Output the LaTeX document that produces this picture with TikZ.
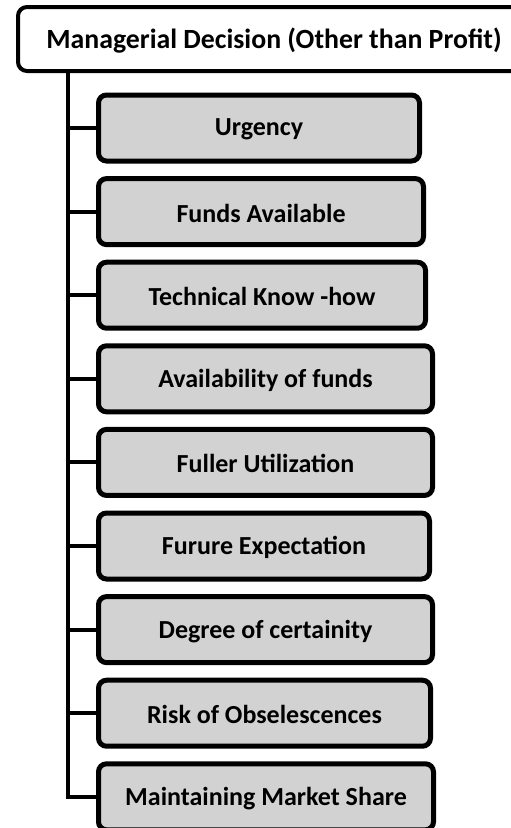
\documentclass[tikz,border=0pt]{standalone}
\usepackage{fontspec}
\setmainfont{Carlito}
\begin{document}
\begin{tikzpicture}[x=1pt,y=-1pt,
  topbox/.style={draw=black,line width=4pt,rounded corners=9pt,fill=white,minimum width=512pt,minimum height=64pt,inner sep=0pt},
  itembox/.style={draw=black,line width=5pt,rounded corners=8pt,fill=boxgray,minimum height=66pt,inner sep=0pt},
  conn/.style={draw=black,line width=4pt},
  lbl/.style={font=\fontsize{26}{30}\selectfont\bfseries}
]
\definecolor{boxgray}{RGB}{210,210,210}
\useasboundingbox (0,0) rectangle (511,828);
\clip (0,0) rectangle (511,828);
\node[topbox] (top) at (274,39) {};
\node[font=\fontsize{27.8}{32}\selectfont\bfseries] (toptxt) at (274,41) {Managerial Decision (Other than Profit)};
\coordinate (trunk) at (68,73);
\node[itembox,minimum width=321pt] (b1) at (259,128) {};
\node[itembox,minimum width=325pt] (b2) at (261,211.6) {};
\node[itembox,minimum width=327pt] (b3) at (262,295.2) {};
\node[itembox,minimum width=334pt] (b4) at (265.5,378.8) {};
\node[itembox,minimum width=334pt] (b5) at (265.5,462.4) {};
\node[itembox,minimum width=331pt] (b6) at (264,546) {};
\node[itembox,minimum width=334pt] (b7) at (265.5,629.6) {};
\node[itembox,minimum width=332pt] (b8) at (264.5,713.2) {};
\node[itembox,minimum width=335pt] (b9) at (266,796.8) {};
\node[lbl] (t1) at ([yshift=-1.5pt]b1) {Urgency};
\node[lbl] (t2) at ([yshift=-1.5pt]b2) {Funds Available};
\node[lbl] (t3) at ([yshift=-1.5pt]b3) {Technical Know -how};
\node[lbl] (t4) at ([yshift=-1.5pt]b4) {Availability of funds};
\node[lbl] (t5) at ([yshift=-1.5pt]b5) {Fuller Utilization};
\node[lbl] (t6) at ([yshift=-1.5pt]b6) {Furure Expectation};
\node[lbl] (t7) at ([yshift=-1.5pt]b7) {Degree of certainity};
\node[lbl] (t8) at ([yshift=-1.5pt]b8) {Risk of Obselescences};
\node[lbl] (t9) at ([yshift=-1.5pt]b9) {Maintaining Market Share};
\path[conn] (trunk) |- (b9.west);
\foreach \i in {1,...,8} {\path[conn] (trunk |- b\i.west) -- (b\i.west);}
\end{tikzpicture}
\end{document}
